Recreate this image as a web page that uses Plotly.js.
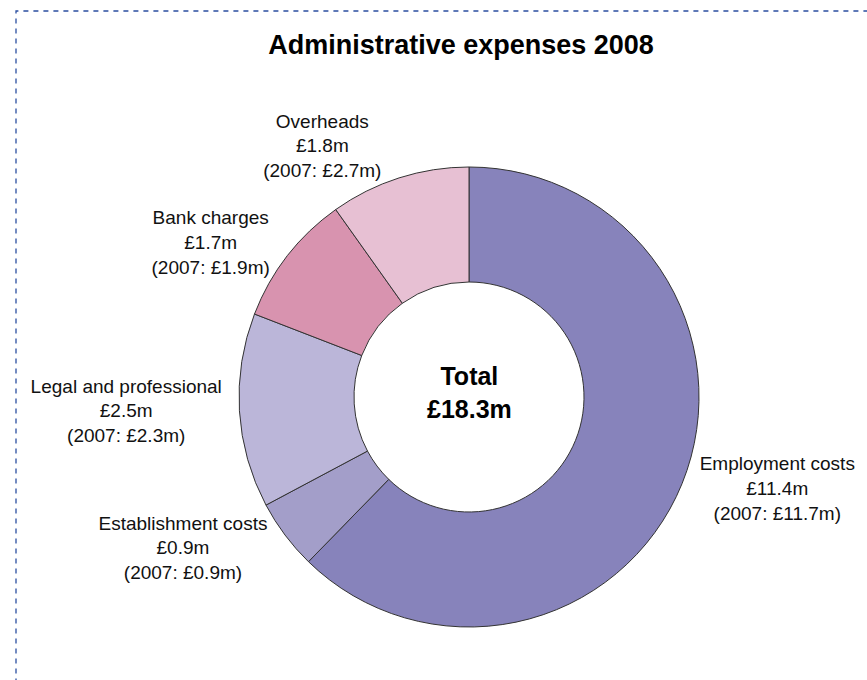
<!DOCTYPE html>
<html><head><meta charset="utf-8">
<script src="https://cdn.plot.ly/plotly-3.0.1.min.js"></script>
<style>html,body{margin:0;padding:0;background:#fff;}#chart{width:867px;height:680px;}</style>
</head><body><div id="chart"></div>
<script>
const categories = ["Employment costs", "Establishment costs", "Legal and professional", "Bank charges", "Overheads"];
const values2008 = [11.4, 0.9, 2.5, 1.7, 1.8];
const values2007 = [11.7, 0.9, 2.3, 1.9, 2.7];
const colors = ["#8783bb", "#a39ec9", "#bbb6d9", "#d893af", "#e7c0d3"];
const total = 18.3;

const labelText = categories.map((c, i) => c + "<br>£" + values2008[i].toFixed(1) + "m<br>(2007: £" + values2007[i].toFixed(1) + "m)");

const W = 867, H = 680;
const cx = 469, cy = 397, R = 230;

const trace = {
  type: "pie",
  labels: categories,
  values: values2008,
  text: labelText,
  textinfo: "text",
  textposition: "outside",
  hole: 0.5,
  sort: false,
  direction: "clockwise",
  rotation: 0,
  marker: {colors: colors, line: {color: "#333333", width: 1}},
  outsidetextfont: {family: "Liberation Sans, Arial, sans-serif", size: 19, color: "#111"},
  domain: {x: [(cx - R) / W, (cx + R) / W], y: [(H - cy - R) / H, (H - cy + R) / H]},
  showlegend: false,
  automargin: false,
  hoverinfo: "none"
};

const layout = {
  width: W, height: H,
  margin: {l: 0, r: 0, t: 0, b: 0},
  paper_bgcolor: "#ffffff",
  font: {family: "Liberation Sans, Arial, sans-serif", color: "#111"},
  title: {text: "<b>Administrative expenses 2008</b>", font: {size: 27, color: "#000"}, x: 461 / W, xanchor: "center", y: 1 - 45 / H, yanchor: "middle"},
  annotations: [{
    text: "<b>Total<br>£" + total.toFixed(1) + "m</b>",
    x: cx / W, y: 1 - 393 / H, xref: "paper", yref: "paper",
    showarrow: false, font: {size: 25, color: "#000"}, align: "center"
  }],
  shapes: [{
    type: "rect", xref: "paper", yref: "paper",
    x0: 16 / W, y0: -0.1, x1: 1.1, y1: 1 - 11 / H,
    line: {color: "#2a4ea0", width: 1.3, dash: "5px,5px"}
  }]
};

Plotly.newPlot("chart", [trace], layout, {staticPlot: true});
</script></body></html>
